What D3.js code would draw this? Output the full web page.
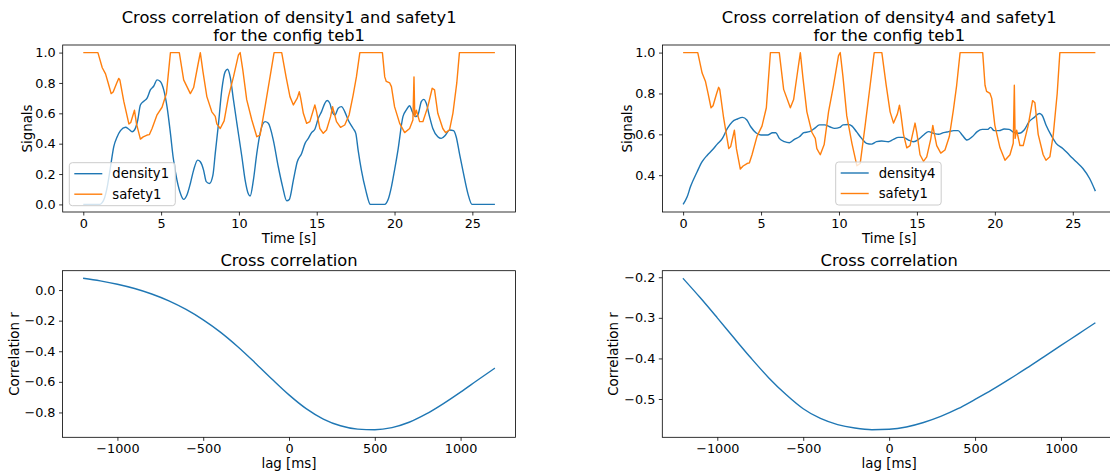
<!DOCTYPE html>
<html>
<head>
<meta charset="utf-8">
<script src="https://cdn.jsdelivr.net/npm/d3@7"></script>
<style>
  body { margin: 0; background: #fff; }
  text { font-family: "DejaVu Sans", sans-serif; fill: #000; }
</style>
</head>
<body>
<div id="chart"></div>
<script>
// safety1 (same signal in both top panels)
const safetyTime = [0, 0.94, 1.22, 1.43, 1.6, 1.79, 1.92, 2.15, 2.28, 2.35, 2.6, 2.93, 3.05, 3.29, 3.42, 3.67, 3.85, 4.1, 4.25, 4.42,
  4.74, 5.06, 5.34, 5.6, 6.17, 6.45, 6.88, 7.09, 7.35, 7.52, 7.69, 7.94, 8.26, 8.48, 8.58, 8.8, 9.05, 9.33, 9.65, 9.97,
  10.08, 10.25, 10.5, 10.83, 11.15, 11.36, 11.68, 12.0, 12.26, 12.75, 13.03, 13.28, 13.5, 13.75, 13.88, 13.97, 14.14, 14.35, 14.56, 14.88,
  14.99, 15.2, 15.42, 15.63, 15.89, 16.02, 16.1, 16.27, 16.53, 16.8, 17.08, 17.34, 17.55, 17.77, 19.22, 19.37, 19.47, 19.69, 19.8, 20.0,
  20.33, 20.65, 20.97, 21.18, 21.25, 21.3, 21.4, 21.61, 21.82, 22.14, 22.42, 22.57, 22.78, 23.1, 23.28, 23.53, 23.75, 24.0, 24.17, 26.45];
const safety1 = [1.0, 1.0, 0.9, 0.86, 0.8, 0.73, 0.74, 0.8, 0.83, 0.82, 0.68, 0.53, 0.54, 0.62, 0.53, 0.43, 0.445, 0.457, 0.46, 0.5,
  0.59, 0.64, 0.73, 1.0, 1.0, 0.82, 0.73, 0.77, 0.91, 1.0, 0.875, 0.71, 0.61, 0.58, 0.53, 0.5, 0.55, 0.71, 0.84, 0.985,
  1.0, 0.886, 0.69, 0.556, 0.446, 0.457, 0.644, 0.84, 1.0, 1.0, 0.84, 0.71, 0.655, 0.7, 0.743, 0.7, 0.6, 0.534, 0.545, 0.655,
  0.61, 0.5, 0.468, 0.49, 0.578, 0.644, 0.61, 0.545, 0.508, 0.523, 0.589, 0.72, 0.84, 1.0, 1.0, 0.84, 0.81, 0.8, 0.776, 0.644,
  0.534, 0.473, 0.5, 0.556, 0.84, 0.58, 0.62, 0.545, 0.545, 0.644, 0.765, 0.754, 0.6, 0.5, 0.473, 0.49, 0.6, 0.8, 1.0, 1.0];

const density1Time = [0, 1.07, 1.2, 1.32, 1.54, 1.75, 1.96, 2.18, 2.39, 2.71, 2.93, 3.14, 3.29, 3.5, 3.67, 3.89, 4.1, 4.31, 4.53, 4.74,
  4.95, 5.17, 5.38, 5.6, 5.77, 6.02, 6.28, 6.45, 6.66, 6.88, 7.09, 7.35, 7.52, 7.73, 7.9, 8.11, 8.33, 8.48, 8.69, 8.9,
  9.12, 9.27, 9.44, 9.65, 9.87, 10.19, 10.4, 10.61, 10.72, 10.93, 11.15, 11.36, 11.68, 11.89, 12.21, 12.53, 12.81, 13.07, 13.24, 13.5,
  13.75, 14.03, 14.25, 14.46, 14.67, 14.88, 15.1, 15.31, 15.52, 15.67, 15.84, 16.02, 16.17, 16.38, 16.59, 16.8, 17.02, 17.34, 17.51, 17.66,
  17.87, 18.15, 18.45, 19.37, 19.58, 19.8, 20.0, 20.22, 20.54, 20.76, 20.97, 21.14, 21.35, 21.5, 21.72, 21.87, 22.04, 22.25, 22.46, 22.78,
  23.0, 23.28, 23.53, 23.79, 23.96, 24.17, 24.43, 24.71, 24.98, 26.45];
const density1 = [0, 0, 0.01, 0.03, 0.116, 0.248, 0.38, 0.446, 0.486, 0.508, 0.495, 0.479, 0.49, 0.556, 0.655, 0.68, 0.7, 0.754, 0.78, 0.82,
  0.81, 0.754, 0.644, 0.468, 0.314, 0.16, 0.062, 0.033, 0.062, 0.138, 0.226, 0.292, 0.281, 0.226, 0.15, 0.138, 0.193, 0.336, 0.534, 0.754,
  0.875, 0.89, 0.84, 0.688, 0.534, 0.314, 0.16, 0.068, 0.055, 0.16, 0.336, 0.468, 0.545, 0.534, 0.424, 0.248, 0.116, 0.024, 0.033, 0.16,
  0.281, 0.336, 0.402, 0.435, 0.473, 0.495, 0.567, 0.611, 0.666, 0.684, 0.666, 0.604, 0.589, 0.633, 0.644, 0.611, 0.556, 0.5, 0.468, 0.358,
  0.226, 0.094, 0, 0, 0.03, 0.116, 0.226, 0.358, 0.578, 0.622, 0.65, 0.611, 0.578, 0.589, 0.677, 0.692, 0.666, 0.578, 0.5, 0.446,
  0.435, 0.457, 0.49, 0.486, 0.446, 0.336, 0.204, 0.073, 0, 0];

const density4Time = [0, 0.26, 0.47, 0.9, 1.22, 1.55, 1.87, 2.19, 2.52, 2.84, 3.16, 3.48, 3.81, 4.09, 4.34, 4.67, 4.99, 5.42, 5.74, 5.95,
  6.17, 6.5, 6.82, 7.14, 7.46, 7.74, 8.1, 8.43, 8.75, 9.08, 9.4, 9.72, 10.05, 10.26, 10.59, 10.84, 11.12, 11.45, 11.77, 12.09,
  12.41, 12.74, 13.17, 13.49, 13.81, 14.14, 14.46, 14.78, 15.1, 15.43, 15.75, 16.07, 16.39, 16.71, 17.04, 17.36, 17.64, 17.9, 18.22, 18.55,
  18.87, 19.19, 19.52, 19.73, 19.95, 20.27, 20.6, 20.92, 21.24, 21.56, 21.88, 22.2, 22.53, 22.85, 23.02, 23.28, 23.6, 23.93, 24.36, 24.79,
  25.22, 25.65, 26.08, 26.45];
const density4 = [0.257, 0.294, 0.343, 0.417, 0.466, 0.498, 0.523, 0.552, 0.58, 0.629, 0.662, 0.675, 0.683, 0.67, 0.637, 0.608, 0.597, 0.597, 0.608, 0.608,
  0.58, 0.564, 0.559, 0.575, 0.588, 0.608, 0.613, 0.629, 0.646, 0.646, 0.637, 0.629, 0.634, 0.646, 0.648, 0.64, 0.613, 0.58, 0.556, 0.552,
  0.564, 0.567, 0.564, 0.575, 0.585, 0.585, 0.572, 0.564, 0.575, 0.597, 0.613, 0.605, 0.6, 0.608, 0.613, 0.618, 0.618, 0.597, 0.572, 0.588,
  0.613, 0.624, 0.624, 0.634, 0.618, 0.618, 0.626, 0.624, 0.608, 0.605, 0.621, 0.662, 0.683, 0.702, 0.695, 0.646, 0.597, 0.556, 0.531, 0.498,
  0.466, 0.433, 0.384, 0.322];

// cross correlation, lag in ms
const lagMs = [-1200, -1100, -1000, -900, -800, -700, -600, -500, -400, -300, -200, -100, 0,
  100, 200, 300, 400, 500, 600, 700, 800, 900, 1000, 1100, 1200];
const corrDensity1 = [0.077, 0.06, 0.038, 0.01, -0.026, -0.071, -0.127, -0.195, -0.275, -0.369, -0.473, -0.581, -0.685,
  -0.775, -0.843, -0.887, -0.909, -0.913, -0.899, -0.864, -0.81, -0.742, -0.667, -0.588, -0.51];
const corrDensity4 = [-0.2025, -0.25, -0.3, -0.351, -0.401, -0.448, -0.489, -0.524, -0.548, -0.563, -0.5715, -0.5757, -0.5745,
  -0.569, -0.558, -0.543, -0.524, -0.501, -0.477, -0.451, -0.424, -0.396, -0.368, -0.34, -0.312];

// tick labels
const timeTicks = [0, 5, 10, 15, 20, 25];
const signalTicksLeft = [0, 0.2, 0.4, 0.6, 0.8, 1.0];
const signalTicksRight = [0.4, 0.6, 0.8, 1.0];
const lagTicks = [-1000, -500, 0, 500, 1000];
const corrTicksLeft = [0, -0.2, -0.4, -0.6, -0.8];
const corrTicksRight = [-0.2, -0.3, -0.4, -0.5];

const blue = "#1f77b4";
const orange = "#ff7f0e";

const svg = d3.select("#chart")
  .append("svg")
  .attr("width", 1110)
  .attr("height", 474)
  .style("background", "#fff");

function padded(values) {
  const [lo, hi] = d3.extent(values);
  const m = (hi - lo) * 0.05;
  return [lo - m, hi + m];
}

function panel(p) {
  const allX = p.series.flatMap((s) => s.x);
  const allY = p.series.flatMap((s) => s.y);
  const x = d3.scaleLinear().domain(padded(allX)).range([p.x0, p.x1]);
  const y = d3.scaleLinear().domain(padded(allY)).range([p.y1, p.y0]);

  const g = svg.append("g");

  // lines
  p.series.forEach((s) => {
    const pts = s.x.map((t, i) => [t, s.y[i]]);
    g.append("path")
      .datum(pts)
      .attr("fill", "none")
      .attr("stroke", s.color)
      .attr("stroke-width", 1.4)
      .attr("stroke-linejoin", "round")
      .attr("d", d3.line().x((d) => x(d[0])).y((d) => y(d[1])).curve(s.curve));
  });

  // axes
  const xa = g.append("g")
    .attr("transform", `translate(0,${p.y1})`)
    .call(d3.axisBottom(x).tickValues(p.xTicks).tickFormat(d3.format("d")).tickSize(3.5).tickPadding(3.5).tickSizeOuter(0));
  const ya = g.append("g")
    .attr("transform", `translate(${p.x0},0)`)
    .call(d3.axisLeft(y).tickValues(p.yTicks).tickFormat(d3.format(".1f")).tickSize(3.5).tickPadding(3.5).tickSizeOuter(0));
  [xa, ya].forEach((a) => {
    a.select(".domain").remove();
    a.selectAll("line").attr("stroke", "#000").attr("stroke-width", 0.8);
    a.selectAll("text").attr("font-size", 12.8).attr("font-family", "DejaVu Sans").attr("fill", "#000");
  });

  // frame
  g.append("rect")
    .attr("x", p.x0).attr("y", p.y0)
    .attr("width", p.x1 - p.x0).attr("height", p.y1 - p.y0)
    .attr("fill", "none").attr("stroke", "#000").attr("stroke-width", 0.8);

  // title
  const cx = (p.x0 + p.x1) / 2;
  p.title.forEach((line, i) => {
    g.append("text")
      .attr("x", cx)
      .attr("y", p.titleY[i])
      .attr("text-anchor", "middle")
      .attr("font-size", 16.3)
      .text(line);
  });

  g.append("text")
    .attr("x", cx)
    .attr("y", p.y1 + 31)
    .attr("text-anchor", "middle")
    .attr("font-size", 13.4)
    .text(p.xlabel);

  g.append("text")
    .attr("transform", `translate(${p.ylabelX},${(p.y0 + p.y1) / 2}) rotate(-90)`)
    .attr("dy", "0.36em")
    .attr("text-anchor", "middle")
    .attr("font-size", 13.4)
    .text(p.ylabel);

  // legend
  if (p.legend) {
    const L = p.legend;
    const lg = g.append("g").attr("transform", `translate(${L.x},${L.y})`);
    lg.append("rect")
      .attr("width", L.w).attr("height", 43)
      .attr("rx", 3)
      .attr("fill", "#fff").attr("fill-opacity", 0.8)
      .attr("stroke", "#ccc").attr("stroke-width", 1);
    p.series.forEach((s, i) => {
      const ry = 11 + i * 20.5;
      lg.append("line")
        .attr("x1", 5).attr("x2", 33)
        .attr("y1", ry).attr("y2", ry)
        .attr("stroke", s.color).attr("stroke-width", 1.4);
      lg.append("text")
        .attr("x", 43).attr("y", ry)
        .attr("dy", "0.36em")
        .attr("font-size", 13.2)
        .text(s.name);
    });
  }
}

panel({
  x0: 62.7, x1: 515.5, y0: 45, y1: 212,
  title: ["Cross correlation of density1 and safety1", "for the config teb1"], titleY: [22.5, 40.5],
  xlabel: "Time [s]", ylabel: "Signals", ylabelX: 26.7,
  xTicks: timeTicks, yTicks: signalTicksLeft,
  series: [
    { name: "density1", x: density1Time, y: density1, color: blue, curve: d3.curveMonotoneX },
    { name: "safety1", x: safetyTime, y: safety1, color: orange, curve: d3.curveLinear }
  ],
  legend: { x: 69.3, y: 162.7, w: 106 }
});

panel({
  x0: 662.5, x1: 1116, y0: 45, y1: 212,
  title: ["Cross correlation of density4 and safety1", "for the config teb1"], titleY: [22.5, 40.5],
  xlabel: "Time [s]", ylabel: "Signals", ylabelX: 626.7,
  xTicks: timeTicks, yTicks: signalTicksRight,
  series: [
    { name: "density4", x: density4Time, y: density4, color: blue, curve: d3.curveMonotoneX },
    { name: "safety1", x: safetyTime, y: safety1, color: orange, curve: d3.curveLinear }
  ],
  legend: { x: 835.7, y: 162, w: 105.5 }
});

panel({
  x0: 62.5, x1: 515.5, y0: 270.7, y1: 437.3,
  title: ["Cross correlation"], titleY: [266],
  xlabel: "lag [ms]", ylabel: "Correlation r", ylabelX: 14,
  xTicks: lagTicks, yTicks: corrTicksLeft,
  series: [{ name: "corr", x: lagMs, y: corrDensity1, color: blue, curve: d3.curveMonotoneX }]
});

panel({
  x0: 662.3, x1: 1116, y0: 270.7, y1: 437.3,
  title: ["Cross correlation"], titleY: [266],
  xlabel: "lag [ms]", ylabel: "Correlation r", ylabelX: 613.3,
  xTicks: lagTicks, yTicks: corrTicksRight,
  series: [{ name: "corr", x: lagMs, y: corrDensity4, color: blue, curve: d3.curveMonotoneX }]
});
</script>
</body>
</html>
